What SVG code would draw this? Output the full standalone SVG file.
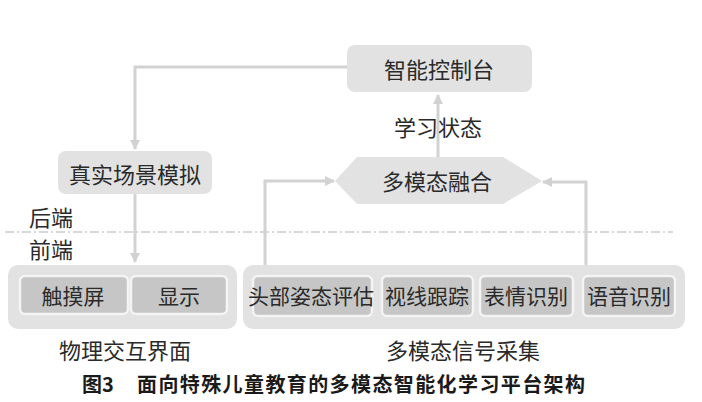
<svg xmlns="http://www.w3.org/2000/svg" width="702" height="402" viewBox="0 0 702 402">
<style>
.t{font-family:"Noto Sans CJK SC","Noto Sans",sans-serif;font-size:22px;fill:#2a2a2a;text-anchor:middle;dominant-baseline:central}
.s{font-size:21px}
.cap{font-family:"Noto Sans CJK SC","Noto Sans",sans-serif;font-size:20px;font-weight:bold;fill:#1a1a1a}
.box{fill:#e2e2e2}
.inner{fill:#c6c6c6;stroke:#f4f4f4;stroke-width:2.5}
.ln{fill:none;stroke:#d2d2d2;stroke-width:3}
</style>
<defs>
<marker id="ah" viewBox="0 0 10 10" refX="9" refY="5" markerWidth="3.4" markerHeight="3.4" orient="auto">
<path d="M0,0 L10,5 L0,10 z" fill="#d2d2d2"/>
</marker>
</defs>
<rect width="702" height="402" fill="#ffffff"/>
<line x1="5" y1="232" x2="673" y2="232" stroke="#cccccc" stroke-width="1.3" stroke-dasharray="9,3,2,3"/>
<g id="connectors">
<path class="ln" d="M347,67 H135 V149" marker-end="url(#ah)"/>
<path class="ln" d="M135,194 V262" marker-end="url(#ah)"/>
<path class="ln" d="M438,145 V95" marker-end="url(#ah)"/>
<path class="ln" d="M438,157 V145"/>
<path class="ln" d="M265,265 V181 H334" marker-end="url(#ah)"/>
<path class="ln" d="M586,265 V182 H543" marker-end="url(#ah)"/>
</g>
<g id="n-control">
<rect class="box" x="347" y="45" width="185" height="47" rx="8"/>
<text class="t" x="439" y="68">智能控制台</text>
</g>
<g id="n-state">
<text class="t" x="438" y="126">学习状态</text>
</g>
<g id="n-fusion">
<polygon class="box" points="335,181 357,157 503,157 542,181 503,204 357,204"/>
<text class="t" x="437" y="180">多模态融合</text>
</g>
<g id="n-scene">
<rect class="box" x="58" y="151" width="154" height="43" rx="8"/>
<text class="t" x="135" y="173">真实场景模拟</text>
</g>
<g id="n-labels">
<text class="t" x="51" y="216">后端</text>
<text class="t" x="51" y="248">前端</text>
</g>
<g id="n-physical">
<rect class="box" x="8" y="265" width="229" height="64" rx="10"/>
<rect class="inner" x="20" y="276" width="108" height="38" rx="5"/>
<text class="t s" x="73" y="295">触摸屏</text>
<rect class="inner" x="131" y="276" width="96" height="38" rx="5"/>
<text class="t s" x="179" y="295">显示</text>
<text class="t" x="125" y="349">物理交互界面</text>
</g>
<g id="n-signal">
<rect class="box" x="243" y="265" width="442" height="64" rx="10"/>
<rect class="inner" x="253" y="276" width="119" height="40" rx="5"/>
<text class="t s" x="311" y="295">头部姿态评估</text>
<rect class="inner" x="382" y="276" width="91" height="40" rx="5"/>
<text class="t s" x="427" y="295">视线跟踪</text>
<rect class="inner" x="480" y="276" width="93" height="40" rx="5"/>
<text class="t s" x="526" y="295">表情识别</text>
<rect class="inner" x="583" y="276" width="92" height="40" rx="5"/>
<text class="t s" x="629" y="295">语音识别</text>
<text class="t" x="463" y="349">多模态信号采集</text>
</g>
<g id="caption">
<text class="cap" x="82" y="392">图3</text>
<text class="cap" x="137" y="392" textLength="448">面向特殊儿童教育的多模态智能化学习平台架构</text>
</g>
</svg>
